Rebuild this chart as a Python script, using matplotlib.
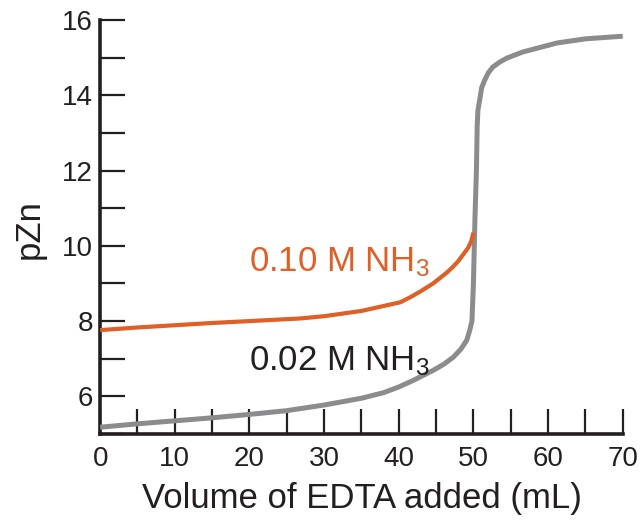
import matplotlib
matplotlib.use('Agg')
import matplotlib.pyplot as plt
from matplotlib.ticker import MultipleLocator

plt.rcParams['font.family'] = ['Liberation Sans', 'DejaVu Sans']
plt.rcParams['mathtext.default'] = 'regular'

# Titration curves (mL EDTA, pZn)
vol_low = [0, 5, 10, 15, 20, 25, 30, 35, 38, 40, 42, 44.6, 46, 47.3, 48.3, 49.1, 49.5, 49.8,
           50.0, 50.2, 50.4, 50.5, 50.6, 50.9, 51.1, 51.5, 52.0, 52.6, 53.5, 54.5, 56.6,
           61.2, 65, 70]
pzn_low = [5.18, 5.27, 5.35, 5.43, 5.52, 5.62, 5.77, 5.95, 6.1, 6.25, 6.43, 6.69, 6.85, 7.04,
           7.25, 7.49, 7.75, 8.0,
           9.0, 10.7, 12.0, 13.15, 13.6, 13.95, 14.2, 14.4, 14.6, 14.75, 14.88, 14.99, 15.15,
           15.39, 15.5, 15.57]

vol_high = [0, 5, 10, 15, 20, 26.8, 30, 35, 40.2, 41.5, 43, 44.6, 46.5, 47.3, 48, 49.3, 49.7, 50.0]
pzn_high = [7.76, 7.83, 7.89, 7.95, 8.0, 8.07, 8.13, 8.27, 8.5, 8.63, 8.8, 9.0, 9.3, 9.45, 9.6,
            9.95, 10.12, 10.35]

label_low = '0.02 M NH$_3$'
label_high = '0.10 M NH$_3$'

fig = plt.figure(figsize=(6.42, 5.2), dpi=100)
ax = fig.add_axes([0.156, 0.1654, 0.814, 0.7961])

ax.plot(vol_low, pzn_low, color='#8c8c8f', lw=3.6, solid_capstyle='butt',
        solid_joinstyle='round', zorder=3)
ax.plot(vol_high, pzn_high, color='#df5f27', lw=3.0, solid_capstyle='butt',
        solid_joinstyle='round', zorder=3)

ax.text(44.2, 9.32, label_high, color='#df5f27', fontsize=25, ha='right', va='baseline')
ax.text(44.2, 6.69, label_low, color='#231f20', fontsize=25, ha='right', va='baseline')

ax.set_xlim(0, 70)
ax.set_ylim(5, 16)
ax.xaxis.set_major_locator(MultipleLocator(10))
ax.xaxis.set_minor_locator(MultipleLocator(5))
ax.yaxis.set_minor_locator(MultipleLocator(1))
ax.set_yticks(range(6, 17, 2))

for s in ['top', 'right']:
    ax.spines[s].set_visible(False)
for s in ['left', 'bottom']:
    ax.spines[s].set_linewidth(2.6)
    ax.spines[s].set_color('#231f20')

ax.tick_params(which='both', direction='in', length=18, width=1.6, color='#231f20',
               labelsize=20, labelcolor='#231f20')
ax.tick_params(axis='x', which='major', pad=9)
ax.tick_params(axis='y', which='major', pad=5)

ax.set_xlabel('Volume of EDTA added (mL)', fontsize=25, color='#231f20')
ax.set_ylabel('pZn', fontsize=25, color='#231f20')
ax.xaxis.set_label_coords(0.5, -0.116)
ax.yaxis.set_label_coords(-0.105, 0.495)

fig.savefig('out.png', dpi=100)
